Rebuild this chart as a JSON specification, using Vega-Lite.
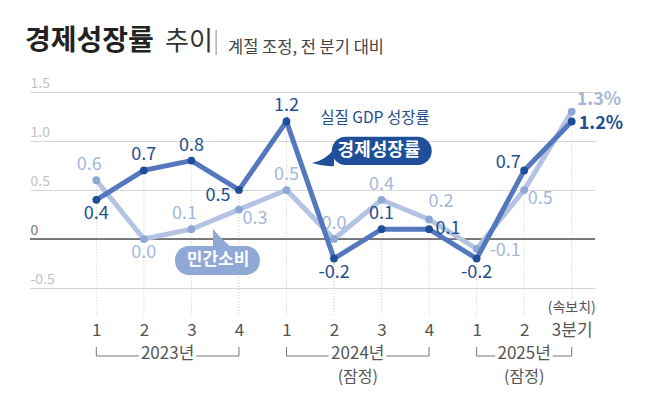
{
  "$schema": "https://vega.github.io/schema/vega-lite/v6.json",
  "width": 565,
  "height": 196,
  "autosize": {"type": "none"},
  "padding": {"left": 30, "top": 92, "right": 75, "bottom": 105},
  "background": "white",
  "config": {
    "view": {"stroke": null},
    "font": "Noto Sans CJK KR",
    "text": {"font": "Noto Sans CJK KR"},
    "locale": {"number": {"decimal": ".", "thousands": ",", "grouping": [3], "currency": ["$", ""], "minus": "-"}}
  },
  "datasets": {
    "qs": [
      {"q": 0, "period": "2023년 1분기", "gdp": 0.4, "cons": 0.6, "note": ""},
      {"q": 1, "period": "2023년 2분기", "gdp": 0.7, "cons": 0.0, "note": ""},
      {"q": 2, "period": "2023년 3분기", "gdp": 0.8, "cons": 0.1, "note": ""},
      {"q": 3, "period": "2023년 4분기", "gdp": 0.5, "cons": 0.3, "note": ""},
      {"q": 4, "period": "2024년 1분기", "gdp": 1.2, "cons": 0.5, "note": ""},
      {"q": 5, "period": "2024년 2분기", "gdp": -0.2, "cons": 0.0, "note": ""},
      {"q": 6, "period": "2024년 3분기", "gdp": 0.1, "cons": 0.4, "note": ""},
      {"q": 7, "period": "2024년 4분기", "gdp": 0.1, "cons": 0.2, "note": ""},
      {"q": 8, "period": "2025년 1분기", "gdp": -0.2, "cons": -0.1, "note": ""},
      {"q": 9, "period": "2025년 2분기", "gdp": 0.7, "cons": 0.5, "note": ""},
      {"q": 10, "period": "2025년 3분기", "gdp": 1.2, "cons": 1.3, "note": "(속보치)"}
    ],
    "years": [
      {"yr": "2023년", "s": 0, "e": 3, "c": 1.5, "note": ""},
      {"yr": "2024년", "s": 4, "e": 7, "c": 5.5, "note": "(잠정)"},
      {"yr": "2025년", "s": 8, "e": 10, "c": 9, "note": "(잠정)"}
    ]
  },
  "data": {"name": "qs"},
  "layer": [
    {
      "transform": [
        {"fold": ["gdp", "cons"]},
        {"aggregate": [{"op": "max", "field": "value", "as": "top"}], "groupby": ["q"]}
      ],
      "mark": {"type": "rule", "color": "#c9c9c9", "strokeDash": [1, 2], "strokeWidth": 1},
      "encoding": {
        "x": {
          "field": "q", "type": "quantitative",
          "scale": {"domain": [-1.395, 10.49], "nice": false, "zero": false},
          "axis": {
            "title": null, "values": [0, 1, 2, 3, 4, 5, 6, 7, 8, 9, 10],
            "labelExpr": "datum.value == 10 ? '3분기' : '' + (datum.value % 4 + 1)",
            "domain": false, "ticks": false, "tickSize": 0, "grid": false,
            "labelPadding": 42, "labelBaseline": "middle", "labelFontSize": 17,
            "labelColor": "#555", "labelFont": "Noto Sans CJK KR", "labelFlush": false, "labelOverlap": false
          }
        },
        "y": {
          "field": "top", "type": "quantitative",
          "scale": {"domain": [-0.5, 1.5], "nice": false, "zero": false},
          "axis": {
            "title": null, "values": [-0.5, 0, 0.5, 1, 1.5],
            "labelExpr": "datum.value == 0 ? '0' : format(datum.value, '.1f')",
            "domain": false, "ticks": false, "tickSize": 0, "grid": true,
            "gridColor": "#d6d6d6", "gridWidth": 1,
            "labelAlign": "left", "labelPadding": 0, "labelBaseline": "alphabetic", "labelOffset": -5,
            "labelFontSize": 14, "labelFont": "Noto Sans CJK KR", "labelFlush": false,
            "labelColor": {"condition": {"test": "datum.value == 0", "value": "#777777"}, "value": "#c2c2c2"}
          }
        },
        "y2": {"datum": -0.786}
      }
    },
    {
      "data": {"values": [{"z": 0}]},
      "mark": {"type": "rule", "color": "#555555", "strokeWidth": 1.5},
      "encoding": {"y": {"field": "z", "type": "quantitative", "title": null}}
    },
    {
      "mark": {"type": "line", "color": "#b3c3e1", "strokeWidth": 5},
      "encoding": {
        "x": {"field": "q", "type": "quantitative", "title": null},
        "y": {"field": "cons", "type": "quantitative", "title": null}
      }
    },
    {
      "mark": {"type": "circle", "color": "#8ea7d5", "size": 60, "opacity": 1},
      "encoding": {
        "x": {"field": "q", "type": "quantitative", "title": null},
        "y": {"field": "cons", "type": "quantitative", "title": null}
      }
    },
    {
      "transform": [{"filter": {"field": "q", "oneOf": [4, 5, 6]}}],
      "mark": {"type": "text", "color": "#a6b7d9", "fontSize": 18, "baseline": "middle", "dy": -15},
      "encoding": {
        "x": {"field": "q", "type": "quantitative", "title": null},
        "y": {"field": "cons", "type": "quantitative", "title": null},
        "text": {"field": "cons", "format": ".1f"}
      }
    },
    {
      "transform": [{"filter": {"field": "q", "oneOf": [0, 2]}}],
      "mark": {"type": "text", "color": "#a6b7d9", "fontSize": 18, "baseline": "middle", "dx": -7, "dy": -15},
      "encoding": {
        "x": {"field": "q", "type": "quantitative", "title": null},
        "y": {"field": "cons", "type": "quantitative", "title": null},
        "text": {"field": "cons", "format": ".1f"}
      }
    },
    {
      "transform": [{"filter": {"field": "q", "oneOf": [7]}}],
      "mark": {"type": "text", "color": "#a6b7d9", "fontSize": 18, "baseline": "middle", "dx": 12, "dy": -17},
      "encoding": {
        "x": {"field": "q", "type": "quantitative", "title": null},
        "y": {"field": "cons", "type": "quantitative", "title": null},
        "text": {"field": "cons", "format": ".1f"}
      }
    },
    {
      "transform": [{"filter": {"field": "q", "oneOf": [1]}}],
      "mark": {"type": "text", "color": "#a6b7d9", "fontSize": 18, "baseline": "middle", "dy": 14},
      "encoding": {
        "x": {"field": "q", "type": "quantitative", "title": null},
        "y": {"field": "cons", "type": "quantitative", "title": null},
        "text": {"field": "cons", "format": ".1f"}
      }
    },
    {
      "transform": [{"filter": {"field": "q", "oneOf": [3, 9]}}],
      "mark": {"type": "text", "color": "#a6b7d9", "fontSize": 18, "baseline": "middle", "dx": 16, "dy": 9},
      "encoding": {
        "x": {"field": "q", "type": "quantitative", "title": null},
        "y": {"field": "cons", "type": "quantitative", "title": null},
        "text": {"field": "cons", "format": ".1f"}
      }
    },
    {
      "transform": [{"filter": {"field": "q", "oneOf": [8]}}],
      "mark": {"type": "text", "color": "#a6b7d9", "fontSize": 18, "baseline": "middle", "align": "left", "dx": 13, "dy": 2},
      "encoding": {
        "x": {"field": "q", "type": "quantitative", "title": null},
        "y": {"field": "cons", "type": "quantitative", "title": null},
        "text": {"field": "cons", "format": ".1f"}
      }
    },
    {
      "transform": [{"filter": {"field": "q", "oneOf": [10]}}, {"calculate": "format(datum.cons, '.1f') + '%'", "as": "lab"}],
      "mark": {"type": "text", "color": "#a6b7d9", "fontSize": 18, "fontWeight": "bold", "baseline": "middle", "align": "left", "dx": 5, "dy": -12},
      "encoding": {
        "x": {"field": "q", "type": "quantitative", "title": null},
        "y": {"field": "cons", "type": "quantitative", "title": null},
        "text": {"field": "lab"}
      }
    },
    {
      "mark": {"type": "line", "color": "#5577bd", "strokeWidth": 5},
      "encoding": {
        "x": {"field": "q", "type": "quantitative", "title": null},
        "y": {"field": "gdp", "type": "quantitative", "title": null}
      }
    },
    {
      "mark": {"type": "circle", "color": "#1f4e99", "size": 60, "opacity": 1},
      "encoding": {
        "x": {"field": "q", "type": "quantitative", "title": null},
        "y": {"field": "gdp", "type": "quantitative", "title": null}
      }
    },
    {
      "transform": [{"filter": {"field": "q", "oneOf": [1, 2, 4, 6]}}],
      "mark": {"type": "text", "color": "#1f4e8f", "fontSize": 18, "baseline": "middle", "dy": -15},
      "encoding": {
        "x": {"field": "q", "type": "quantitative", "title": null},
        "y": {"field": "gdp", "type": "quantitative", "title": null},
        "text": {"field": "gdp", "format": ".1f"}
      }
    },
    {
      "transform": [{"filter": {"field": "q", "oneOf": [0, 5, 8]}}],
      "mark": {"type": "text", "color": "#1f4e8f", "fontSize": 18, "baseline": "middle", "dy": 14},
      "encoding": {
        "x": {"field": "q", "type": "quantitative", "title": null},
        "y": {"field": "gdp", "type": "quantitative", "title": null},
        "text": {"field": "gdp", "format": ".1f"}
      }
    },
    {
      "transform": [{"filter": {"field": "q", "oneOf": [3]}}],
      "mark": {"type": "text", "color": "#1f4e8f", "fontSize": 18, "baseline": "middle", "dx": -21, "dy": 6},
      "encoding": {
        "x": {"field": "q", "type": "quantitative", "title": null},
        "y": {"field": "gdp", "type": "quantitative", "title": null},
        "text": {"field": "gdp", "format": ".1f"}
      }
    },
    {
      "transform": [{"filter": {"field": "q", "oneOf": [9]}}],
      "mark": {"type": "text", "color": "#1f4e8f", "fontSize": 18, "baseline": "middle", "dx": -16, "dy": -7},
      "encoding": {
        "x": {"field": "q", "type": "quantitative", "title": null},
        "y": {"field": "gdp", "type": "quantitative", "title": null},
        "text": {"field": "gdp", "format": ".1f"}
      }
    },
    {
      "transform": [{"filter": {"field": "q", "oneOf": [7]}}],
      "mark": {"type": "text", "color": "#1f4e8f", "fontSize": 18, "baseline": "middle", "dx": 19, "dy": 0},
      "encoding": {
        "x": {"field": "q", "type": "quantitative", "title": null},
        "y": {"field": "gdp", "type": "quantitative", "title": null},
        "text": {"field": "gdp", "format": ".1f"}
      }
    },
    {
      "transform": [{"filter": {"field": "q", "oneOf": [10]}}, {"calculate": "format(datum.gdp, '.1f') + '%'", "as": "lab"}],
      "mark": {"type": "text", "color": "#1f4e8f", "fontSize": 18, "fontWeight": "bold", "baseline": "middle", "align": "left", "dx": 7, "dy": 3},
      "encoding": {
        "x": {"field": "q", "type": "quantitative", "title": null},
        "y": {"field": "gdp", "type": "quantitative", "title": null},
        "text": {"field": "lab"}
      }
    },
    {
      "data": {"values": [{"label": "경제성장률"}]},
      "mark": {"type": "rect", "color": "#1e4f98", "cornerRadius": 14},
      "encoding": {"x": {"datum": 4.952}, "x2": {"datum": 7.055}, "y": {"datum": 1.044}, "y2": {"datum": 0.755}}
    },
    {
      "data": {"values": [{"label": "경제성장률"}]},
      "mark": {"type": "point", "filled": true, "opacity": 1, "color": "#1e4f98", "size": 484,
        "shape": "M -1 0.36 Q 0.2 0.1 1 -0.9 L 1 0.64 Q 0 0.7 -1 0.36 Z"},
      "encoding": {"x": {"datum": 4.77}, "y": {"datum": 0.816}}
    },
    {
      "data": {"values": [{"label": "경제성장률"}]},
      "mark": {"type": "text", "color": "white", "fontSize": 18, "fontWeight": "bold", "baseline": "middle"},
      "encoding": {"x": {"datum": 5.946}, "y": {"datum": 0.9}, "text": {"field": "label"}}
    },
    {
      "data": {"values": [{"label": "실질 GDP 성장률"}]},
      "mark": {"type": "text", "color": "#1f4e8f", "fontSize": 15.5, "baseline": "middle"},
      "encoding": {"x": {"datum": 5.862}, "y": {"datum": 1.23}, "text": {"field": "label"}}
    },
    {
      "data": {"values": [{"label": "민간소비"}]},
      "mark": {"type": "rect", "color": "#8fa8d5", "cornerRadius": 14},
      "encoding": {"x": {"datum": 1.655}, "x2": {"datum": 3.44}, "y": {"datum": -0.071}, "y2": {"datum": -0.367}}
    },
    {
      "data": {"values": [{"label": "민간소비"}]},
      "mark": {"type": "point", "filled": true, "opacity": 1, "color": "#8fa8d5", "size": 400,
        "shape": "M -0.9 -0.9 L -0.9 1 L 1 1 Q 0 0.2 -0.9 -0.9 Z"},
      "encoding": {"x": {"datum": 2.644}, "y": {"datum": 0.01}}
    },
    {
      "data": {"values": [{"label": "민간소비"}]},
      "mark": {"type": "text", "color": "white", "fontSize": 17, "fontWeight": "bold", "baseline": "middle"},
      "encoding": {"x": {"datum": 2.56}, "y": {"datum": -0.219}, "text": {"field": "label"}}
    },
    {
      "data": {"name": "years"},
      "mark": {"type": "rule", "color": "#777777", "strokeWidth": 1},
      "encoding": {
        "x": {"field": "s", "type": "quantitative", "title": null},
        "x2": {"field": "e"},
        "y": {"datum": -1.194}
      }
    },
    {
      "data": {"name": "years"},
      "mark": {"type": "rule", "color": "#777777", "strokeWidth": 1},
      "encoding": {
        "x": {"field": "s", "type": "quantitative", "title": null},
        "y": {"datum": -1.194}, "y2": {"datum": -1.102}
      }
    },
    {
      "data": {"name": "years"},
      "mark": {"type": "rule", "color": "#777777", "strokeWidth": 1},
      "encoding": {
        "x": {"field": "e", "type": "quantitative", "title": null},
        "y": {"datum": -1.194}, "y2": {"datum": -1.102}
      }
    },
    {
      "data": {"name": "years"},
      "mark": {"type": "text", "fontSize": 17, "baseline": "middle", "fill": "white", "stroke": "white", "strokeWidth": 7},
      "encoding": {
        "x": {"field": "c", "type": "quantitative", "title": null},
        "y": {"datum": -1.173},
        "text": {"field": "yr"}
      }
    },
    {
      "data": {"name": "years"},
      "mark": {"type": "text", "fontSize": 17, "baseline": "middle", "color": "#555555"},
      "encoding": {
        "x": {"field": "c", "type": "quantitative", "title": null},
        "y": {"datum": -1.173},
        "text": {"field": "yr"}
      }
    },
    {
      "data": {"name": "years"},
      "mark": {"type": "text", "fontSize": 16, "baseline": "middle", "color": "#555555"},
      "encoding": {
        "x": {"field": "c", "type": "quantitative", "title": null},
        "y": {"datum": -1.408},
        "text": {"field": "note"}
      }
    },
    {
      "transform": [{"filter": {"field": "q", "oneOf": [10]}}],
      "mark": {"type": "text", "fontSize": 14, "baseline": "middle", "color": "#555555"},
      "encoding": {
        "x": {"field": "q", "type": "quantitative", "title": null},
        "y": {"datum": -0.70},
        "text": {"field": "note"}
      }
    },
    {
      "data": {"values": [{"t": "경제성장률"}]},
      "mark": {"type": "text", "fontSize": 28, "fontWeight": "bold", "align": "left", "baseline": "middle", "color": "#222222"},
      "encoding": {"x": {"datum": -1.5}, "y": {"datum": 2.01}, "text": {"field": "t"}}
    },
    {
      "data": {"values": [{"t": "추이"}]},
      "mark": {"type": "text", "fontSize": 26, "align": "left", "baseline": "middle", "color": "#333333"},
      "encoding": {"x": {"datum": 1.445}, "y": {"datum": 2.01}, "text": {"field": "t"}}
    },
    {
      "data": {"values": [{"t": "|"}]},
      "mark": {"type": "rule", "color": "#888888", "strokeWidth": 1},
      "encoding": {"x": {"datum": 2.52}, "y": {"datum": 2.133}, "y2": {"datum": 1.878}}
    },
    {
      "data": {"values": [{"t": "계절 조정, 전 분기 대비"}]},
      "mark": {"type": "text", "fontSize": 16.5, "align": "left", "baseline": "middle", "color": "#444444"},
      "encoding": {"x": {"datum": 2.77}, "y": {"datum": 1.954}, "text": {"field": "t"}}
    }
  ]
}
